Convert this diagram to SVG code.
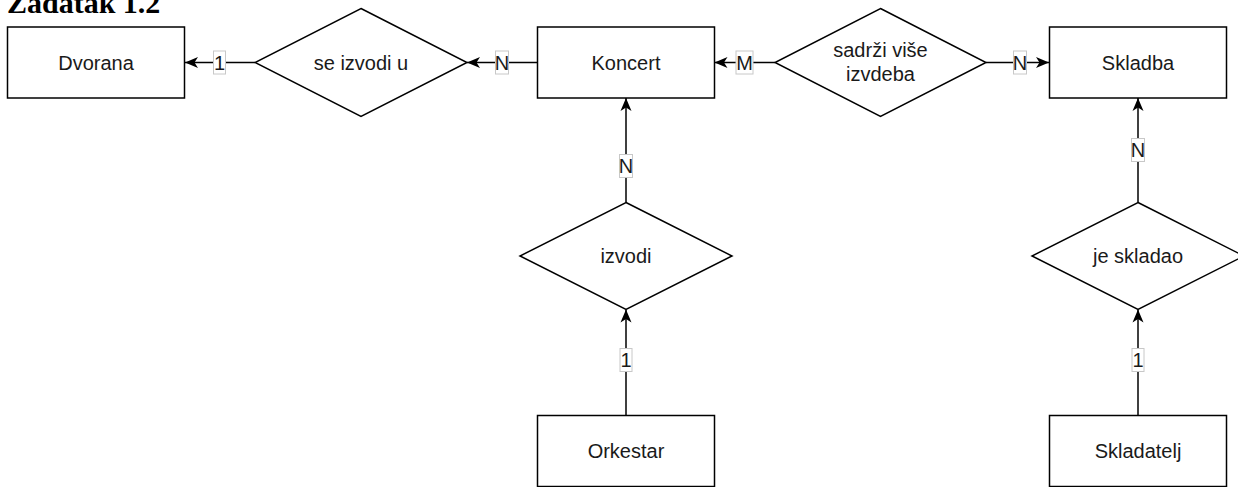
<svg xmlns="http://www.w3.org/2000/svg" width="1238" height="487" viewBox="0 0 1238 487">
<style>
.box{fill:#fff;stroke:#000;stroke-width:1.5}
.t{font-family:"Liberation Sans",Arial,sans-serif;font-size:20px;fill:#1a1a1a;text-anchor:middle}
.line{stroke:#000;stroke-width:1.5;fill:none}
.lb{fill:#fff;stroke:#c8c8c8;stroke-width:1}
.title{font-family:"Liberation Serif","Times New Roman",serif;font-size:30px;font-weight:bold;fill:#000}
</style>
<defs>
<marker id="arr" markerWidth="14" markerHeight="12" refX="13" refY="6" orient="auto" markerUnits="userSpaceOnUse">
<path d="M0,0.5 L13,6 L0,11.5 L3.5,6 Z" fill="#000"/>
</marker>
</defs>
<rect width="1238" height="487" fill="#fff"/>
<text class="title" x="7" y="13">Zadatak 1.2</text>

<g id="connectors">
<line class="line" x1="255" y1="62.5" x2="185" y2="62.5" marker-end="url(#arr)"/>
<line class="line" x1="537.5" y1="62.5" x2="467" y2="62.5" marker-end="url(#arr)"/>
<line class="line" x1="775" y1="62.5" x2="714.5" y2="62.5" marker-end="url(#arr)"/>
<line class="line" x1="986" y1="62.5" x2="1049" y2="62.5" marker-end="url(#arr)"/>
<line class="line" x1="626" y1="202.5" x2="626" y2="98" marker-end="url(#arr)"/>
<line class="line" x1="626" y1="415.5" x2="626" y2="309.5" marker-end="url(#arr)"/>
<line class="line" x1="1138" y1="202.5" x2="1138" y2="98" marker-end="url(#arr)"/>
<line class="line" x1="1138" y1="415.5" x2="1138" y2="309.5" marker-end="url(#arr)"/>
<rect class="lb" x="213.5" y="51" width="12" height="23"/><text class="t" x="219.5" y="69.5">1</text>
<rect class="lb" x="495.5" y="51" width="13" height="23"/><text class="t" x="502" y="69.5">N</text>
<rect class="lb" x="736" y="51" width="17" height="23"/><text class="t" x="744.5" y="69.5">M</text>
<rect class="lb" x="1013.5" y="51" width="13" height="23"/><text class="t" x="1020" y="69.5">N</text>
<rect class="lb" x="619.5" y="154.5" width="13" height="23"/><text class="t" x="626" y="173">N</text>
<rect class="lb" x="620" y="348.5" width="12" height="23"/><text class="t" x="626" y="367">1</text>
<rect class="lb" x="1131.5" y="138.5" width="13" height="23"/><text class="t" x="1138" y="157">N</text>
<rect class="lb" x="1132" y="348.5" width="12" height="23"/><text class="t" x="1138" y="367">1</text>
</g>

<g id="dvorana"><rect class="box" x="7.5" y="27" width="177" height="71"/><text class="t" x="96" y="69.5">Dvorana</text></g>
<g id="se-izvodi-u"><polygon class="box" points="361,8.5 467,62.5 361,116.5 255,62.5"/><text class="t" x="361" y="69.5">se izvodi u</text></g>
<g id="koncert"><rect class="box" x="537.5" y="27" width="177" height="71"/><text class="t" x="626" y="69.5">Koncert</text></g>
<g id="sadrzi"><polygon class="box" points="880.5,8.5 986,62.5 880.5,116.5 775,62.5"/><text class="t" x="880.5" y="56.5">sadrži više</text><text class="t" x="880.5" y="81">izvdeba</text></g>
<g id="skladba"><rect class="box" x="1049.5" y="27" width="177" height="71"/><text class="t" x="1138" y="69.5">Skladba</text></g>
<g id="izvodi"><polygon class="box" points="626,202.5 732,256 626,309.5 520,256"/><text class="t" x="626" y="263">izvodi</text></g>
<g id="je-skladao"><polygon class="box" points="1138,202.5 1244,256 1138,309.5 1032,256"/><text class="t" x="1138" y="263">je skladao</text></g>
<g id="orkestar"><rect class="box" x="537.5" y="415.5" width="177" height="71"/><text class="t" x="626" y="458">Orkestar</text></g>
<g id="skladatelj"><rect class="box" x="1049.5" y="415.5" width="177" height="71"/><text class="t" x="1138" y="458">Skladatelj</text></g>
</svg>
